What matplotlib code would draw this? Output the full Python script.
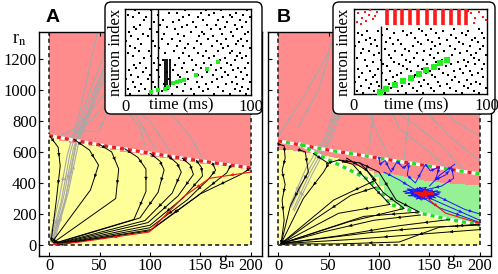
import matplotlib
matplotlib.use('Agg')
import matplotlib.pyplot as plt
from matplotlib.patches import FancyBboxPatch
from matplotlib.transforms import IdentityTransform

plt.rcParams['font.family'] = ['Liberation Serif', 'DejaVu Serif']
plt.rcParams['mathtext.fontset'] = 'stix'
plt.rcParams['font.size'] = 12

PINK = '#ff8c8c'
YELLOW = '#ffff99'
GREEN = '#96f096'
GRAY = '#a8a8a8'

W, H = 498, 274

# ---------------------------------------------------------------- region data
# upper separatrix (red dashed) in panel A and B
A_sep_g = [0, 50, 100, 150, 200]
A_sep_r = [705, 645, 592, 542, 497]
B_sep_g = [0, 50, 100, 150, 200]
B_sep_r = [671, 612, 560, 508, 458]
# lower green/white dashed line in panel B
B_low_g = [22, 40, 69, 90, 100, 111, 141, 170, 200]
B_low_r = [650, 580, 490, 420, 360, 262, 205, 165, 129]

# top edge of yellow region (stairs)
A_yel_g = [0, 10, 20, 30, 40, 50, 60, 70, 80, 90, 100, 110, 120, 130, 140,
           150, 160, 170, 180, 190, 200]
A_yel_r = [690, 672, 660, 648, 636, 625, 610, 600, 590, 578, 568, 560, 550,
           542, 532, 522, 515, 508, 500, 492, 492]

B_yel_g = [0, 5, 10, 15, 20, 25, 30, 35, 40, 45, 50, 55, 60, 65, 70, 75, 80,
           85, 90, 95, 100, 105, 110, 115, 120, 125, 130, 135, 140, 145, 150,
           155, 160, 165, 170, 175, 180, 185, 190, 195, 200]
B_yel_r = [613, 613, 610, 605, 600, 595, 590, 585, 580, 575, 570, 560, 545,
           530, 520, 510, 500, 490, 475, 440, 380, 320, 277, 262, 250, 240,
           230, 222, 213, 205, 198, 190, 182, 175, 168, 160, 152, 145, 140,
           135, 135]
B_grn_g = [95, 100, 105, 110, 115, 120, 125, 130, 135, 140, 145, 150, 155,
           160, 165, 170, 175, 180, 185, 190, 195, 200]
B_grn_lo = [440, 380, 320, 277, 262, 250, 240, 230, 222, 213, 205, 198, 190,
            182, 175, 168, 160, 152, 145, 140, 135, 135]
B_grn_hi = [464, 462, 460, 455, 450, 445, 440, 432, 425, 420, 415, 410, 405,
            400, 398, 396, 394, 392, 390, 389, 388, 388]

# ---------------------------------------------------------------- trajectories
A_black = [
    [(1, 700), (9, 630), (11, 510), (7, 280), (2, 25)],
    [(25, 680), (40, 612), (49, 515), (41, 355), (3, 20)],
    [(50, 648), (62, 600), (69, 490), (66, 300), (4, 15)],
    [(75, 620), (88, 565), (96, 490), (96, 345), (84, 165), (5, 12)],
    [(100, 592), (110, 540), (114, 484), (108, 340), (90, 175), (6, 10)],
    [(118, 575), (127, 525), (131, 470), (122, 335), (95, 158), (7, 9)],
    [(132, 560), (140, 515), (143, 455), (128, 318), (98, 145), (8, 8)],
    [(146, 545), (151, 500), (152, 445), (133, 305), (100, 128), (9, 7)],
    [(162, 528), (165, 482), (158, 425), (137, 292), (100, 112), (10, 6)],
    [(180, 512), (176, 465), (146, 312), (101, 100), (10, 5)],
    [(200, 497), (190, 455), (150, 330), (100, 92), (10, 4)],
]
A_red = [(200, 470), (159, 430), (133, 310), (99, 84), (29, 19), (4, 4)]
A_gray = [
    [(3, 30), (14, 300), (24, 620), (38, 900), (55, 1150), (72, 1372)],
    [(4, 25), (17, 320), (27, 650), (45, 950), (66, 1250), (78, 1372)],
    [(2, 40), (12, 280), (21, 600), (34, 880), (50, 1150), (62, 1372)],
    [(5, 20), (19, 340), (30, 680), (50, 1000), (84, 1372)],
    [(3, 35), (15, 260), (26, 640), (42, 920), (58, 1200), (68, 1372)],
    [(1, 50), (10, 300), (18, 580), (30, 850), (48, 1372)],
    [(92, 1372), (70, 1100), (40, 850), (24, 740), (8, 700)],
    [(100, 1372), (78, 1120), (55, 900), (35, 760), (20, 690)],
    [(24, 740), (49, 730), (58, 860), (62, 1000)],
    [(74, 890), (90, 760), (95, 640)],
    [(60, 1000), (85, 850), (105, 620)],
    [(65, 950), (100, 800), (120, 600)],
    [(120, 850), (140, 700), (152, 560)],
]

B_black = [
    [(0, 650), (6, 640), (7, 560), (4, 480), (7, 390), (4, 290), (6, 160), (3, 10)],
    [(20, 615), (27, 600), (30, 470), (22, 380), (12, 250), (3, 10)],
    [(35, 590), (50, 525), (45, 470), (25, 300), (3, 10)],
    [(48, 525), (60, 548), (81, 529), (97, 419), (55, 290), (3, 10)],
    [(60, 548), (74, 520), (92, 390), (111, 262), (60, 205), (3, 10)],
    [(81, 529), (100, 470), (117, 290), (140, 213), (85, 185), (3, 10)],
    [(68, 560), (88, 480), (104, 340), (125, 236), (70, 150), (3, 10)],
    [(97, 374), (72, 320), (35, 160), (3, 10)],
    [(141, 194), (95, 160), (45, 85), (3, 10)],
    [(170, 165), (120, 125), (60, 60), (3, 10)],
    [(200, 129), (150, 115), (90, 80), (3, 10)],
    [(200, 135), (160, 116), (120, 20), (60, 8), (3, 8)],
    [(200, 100), (140, 70), (70, 35), (3, 10)],
]
B_blue = [
    [(100, 568), (101, 520), (106, 545), (112, 470), (118, 540), (124, 495),
     (130, 530), (128, 450), (136, 400), (146, 520), (151, 478), (160, 505),
     (156, 420), (166, 452), (172, 500), (174, 430), (162, 380), (150, 362),
     (136, 342), (146, 300), (131, 352), (151, 330), (140, 372), (156, 320),
     (135, 310), (146, 362), (126, 332), (151, 346), (140, 300), (161, 342),
     (138, 352), (148, 310), (132, 326), (153, 356), (142, 290), (128, 362),
     (155, 336), (141, 330)],
    [(134, 345), (150, 312), (129, 318), (158, 350), (137, 296), (147, 372),
     (124, 345), (156, 305), (139, 360), (152, 325), (131, 338), (145, 295),
     (160, 330), (136, 320), (149, 355), (142, 340)],
    [(141, 330), (165, 260), (200, 160)],
    [(130, 360), (160, 240), (200, 145)],
    [(150, 340), (185, 230), (200, 200)],
    [(105, 470), (120, 420), (135, 360)],
    [(175, 520), (160, 450), (150, 380)],
]
B_red = [(146, 325), (150, 290), (166, 206), (199, 142)]
B_red_knot = [(136, 336), (154, 330), (145, 348), (144, 312), (139, 326),
              (152, 340), (146, 322)]
B_gray = [
    [(13, 245), (30, 480), (49, 697), (62, 950), (75, 1200), (85, 1372)],
    [(15, 230), (32, 470), (51, 690), (66, 980), (80, 1372)],
    [(12, 260), (28, 500), (47, 700), (58, 930), (70, 1150), (78, 1372)],
    [(16, 220), (34, 460), (53, 690), (70, 1000), (92, 1372)],
    [(0, 700), (25, 950), (50, 1240), (56, 1372)],
    [(20, 760), (40, 1000), (51, 1238)],
    [(110, 1372), (100, 1100), (95, 900), (90, 600)],
    [(120, 1372), (112, 1050), (130, 850), (125, 560)],
    [(100, 1000), (140, 900), (170, 700), (200, 540)],
    [(95, 950), (130, 800), (160, 650), (185, 480)],
    [(105, 1100), (150, 950), (175, 800), (200, 700)],
    [(110, 900), (120, 750), (150, 600), (170, 480)],
    [(90, 850), (100, 700), (110, 570)],
    [(140, 1372), (150, 1150), (180, 950), (200, 800)],
]

# ---------------------------------------------------------------- raster data
A_bg = [
    [4, 19, 37, 55, 71, 83, 96], [11, 29, 46, 62, 78, 91],
    [2, 16, 34, 52, 66, 87, 98], [8, 24, 41, 59, 74, 93],
    [13, 31, 48, 64, 80, 89], [6, 22, 39, 57, 69, 85, 99],
    [1, 18, 35, 50, 73, 94], [10, 27, 44, 61, 77, 88],
    [5, 20, 42, 58, 70, 82, 97], [14, 33, 49, 65, 79, 92],
    [3, 25, 38, 54, 72, 86], [9, 17, 45, 60, 76, 90, 95],
    [7, 28, 40, 56, 68, 84], [12, 23, 47, 63, 81, 98],
    [0, 30, 36, 53, 75, 87], [15, 26, 43, 67, 79, 93],
    [6, 21, 51, 62, 71, 89, 96], [2, 32, 46, 58, 83, 91],
    [11, 19, 39, 64, 74, 85], [8, 27, 48, 55, 78, 99],
    [4, 24, 41, 69, 82, 94], [13, 34, 50, 60, 76, 88],
    [1, 22, 44, 57, 73, 90, 97], [10, 29, 37, 66, 80, 92],
    [5, 18, 47, 59, 70, 86], [14, 31, 42, 63, 77, 95],
    [3, 25, 52, 61, 84, 98], [9, 20, 40, 68, 75, 89],
    [7, 33, 45, 56, 79, 93], [12, 28, 49, 65, 72, 87],
    [0, 23, 38, 54, 81, 96], [15, 30, 43, 62, 74, 91],
    [6, 17, 46, 58, 78, 85, 99], [2, 26, 51, 67, 83, 94],
    [11, 35, 41, 60, 71, 88], [8, 21, 48, 64, 76, 97],
]
A_lines_t = [21, 26.5]
A_burst_t = [31.5, 33.5, 35.5]
A_burst_n = (0.09, 0.42)
A_green_t = [21, 26, 32, 34, 38, 41, 44, 47, 56, 65, 74]
A_green_n = [0.03, 0.06, 0.07, 0.09, 0.14, 0.15, 0.16, 0.18, 0.23, 0.30, 0.38]

B_bg = [
    [7, 23, 39, 52, 68, 81, 94], [2, 15, 33, 47, 60, 77, 90],
    [11, 28, 44, 58, 72, 86, 99], [5, 19, 36, 50, 65, 83],
    [13, 26, 41, 56, 70, 88, 95], [1, 17, 31, 49, 63, 79, 92],
    [9, 24, 38, 53, 74, 85], [4, 14, 29, 45, 61, 76, 97],
    [16, 32, 46, 59, 71, 89], [6, 21, 35, 54, 67, 82, 93],
    [12, 27, 43, 57, 75, 87], [3, 18, 40, 51, 64, 80, 96],
    [10, 25, 37, 48, 69, 84], [0, 22, 34, 55, 73, 91, 98],
    [14, 30, 42, 62, 78, 86], [8, 20, 39, 52, 66, 83, 94],
    [2, 28, 45, 60, 71, 90], [15, 26, 36, 57, 74, 88, 99],
    [5, 19, 47, 63, 80, 92], [11, 31, 41, 53, 68, 85],
    [7, 23, 38, 58, 76, 95], [1, 17, 44, 61, 72, 87, 97],
    [13, 29, 35, 50, 65, 82], [4, 24, 48, 59, 79, 93],
    [9, 16, 33, 56, 70, 89], [12, 27, 46, 64, 77, 91, 98],
    [6, 21, 40, 54, 73, 84], [3, 30, 43, 62, 81, 96],
    [10, 18, 37, 51, 67, 86], [0, 25, 49, 58, 75, 94],
]
B_line_t = 20
B_red_stripes = [25, 30.6, 36, 42.3, 48, 55, 61, 67, 73, 78.7, 84.5]
B_red_dots_t = [3, 6, 8, 11, 14, 17, 2, 9, 12, 16, 88, 91, 94, 97, 90, 86, 5, 99]
B_red_dots_n = [0.95, 0.90, 0.97, 0.93, 0.88, 0.96, 0.85, 0.86, 0.99, 0.92,
                0.95, 0.89, 0.97, 0.91, 0.84, 0.98, 0.82, 0.87]
B_green_t = [19.3, 24, 30.6, 37, 43, 48.5, 54, 60, 65, 70]
B_green_n = [0.02, 0.06, 0.11, 0.15, 0.19, 0.24, 0.28, 0.32, 0.36, 0.40]


# ---------------------------------------------------------------- helpers
def px_box(x0, y0, x1, y1):
    return [x0 / W, 1 - y1 / H, (x1 - x0) / W, (y1 - y0) / H]


def draw_traj(ax, pts, color, lw=0.7, z=3, head=5, end_head=True):
    g = [p[0] for p in pts]
    r = [p[1] for p in pts]
    ax.plot(g, r, color=color, lw=lw, zorder=z)
    segs = list(zip(pts[:-1], pts[1:]))
    for i, ((g0, r0), (g1, r1)) in enumerate(segs):
        f = 1.0 if (end_head and i == len(segs) - 1) else 0.5
        gm, rm = g0 + f * (g1 - g0), r0 + f * (r1 - r0)
        ax.annotate('', xy=(gm, rm), xytext=(gm - 0.03 * (g1 - g0), rm - 0.03 * (r1 - r0)),
                    arrowprops=dict(arrowstyle='-|>', color=color, lw=0.3,
                                    shrinkA=0, shrinkB=0, mutation_scale=head),
                    zorder=z)


def setup(ax, left_labels, right_ticks):
    ax.set_xlim(-10, 211)
    ax.set_ylim(-70, 1372)
    ax.set_xticks([0, 50, 100, 150, 200])
    ax.set_yticks(range(0, 1201, 200))
    ax.tick_params(direction='in', length=3, width=0.8, top=True,
                   right=right_ticks, labelsize=12, pad=1.5)
    if not left_labels:
        ax.set_yticklabels([])
    for s in ax.spines.values():
        s.set_linewidth(1.0)


def base_regions(ax):
    ax.fill_between([0, 200], [0, 0], [1372, 1372], color=PINK, lw=0, zorder=0)
    kw = dict(color='#333333', lw=1.3, dashes=(2.3, 1.7), zorder=2.5)
    ax.plot([0, 0], [0, 1372], **kw)
    ax.plot([200, 200], [0, 1372], **kw)
    ax.plot([0, 200], [0, 0], **kw)


def raster(ax, rows, nmax):
    ts, ns = [], []
    for i, row in enumerate(rows):
        for t in row:
            ts.append(t)
            ns.append((i + 0.5) / len(rows) * nmax)
    ax.scatter(ts, ns, s=1.1, marker='s', color='black', linewidths=0, zorder=2)


fig = plt.figure(figsize=(W / 100, H / 100), dpi=100)
axA = fig.add_axes(px_box(39, 32, 262, 256))
axB = fig.add_axes(px_box(268, 32, 491, 256))

# ---------------------------------------------------------------- panel A
setup(axA, True, False)
base_regions(axA)
axA.fill_between(A_yel_g, 0, A_yel_r, step='post', color=YELLOW, lw=0, zorder=1)
for tr in A_gray:
    draw_traj(axA, tr, GRAY, lw=0.8, z=2, end_head=False)
axA.plot(A_sep_g, A_sep_r, color='white', lw=2.4, zorder=2.8)
axA.plot(A_sep_g, A_sep_r, color='#e82020', lw=2.4, dashes=(1.2, 1.2), zorder=2.81)
for tr in A_black:
    draw_traj(axA, tr, 'black')
draw_traj(axA, A_red, '#ee1111', lw=0.8, z=3.2)

# ---------------------------------------------------------------- panel B
setup(axB, False, True)
base_regions(axB)
axB.fill_between(B_yel_g, 0, B_yel_r, step='post', color=YELLOW, lw=0, zorder=1)
axB.fill_between(B_grn_g, B_grn_lo, B_grn_hi, step='post', color=GREEN, lw=0, zorder=1)
for tr in B_gray:
    draw_traj(axB, tr, GRAY, lw=0.8, z=2, end_head=False)
axB.plot(B_sep_g, B_sep_r, color='white', lw=2.4, zorder=2.8)
axB.plot(B_sep_g, B_sep_r, color='#e82020', lw=2.4, linestyle=(0, (1.2, 3.6)),
         zorder=2.81)
axB.plot(B_sep_g, B_sep_r, color='#22dd22', lw=2.4, linestyle=(2.4, (1.2, 3.6)),
         zorder=2.82)
axB.plot(B_low_g, B_low_r, color='white', lw=2.4, zorder=2.8)
axB.plot(B_low_g, B_low_r, color='#22dd22', lw=2.4, dashes=(1.2, 1.2), zorder=2.81)
for tr in B_black:
    draw_traj(axB, tr, 'black')
for tr in B_blue:
    draw_traj(axB, tr, '#1a1aff', lw=0.7, z=3.3, end_head=False)
draw_traj(axB, B_red, '#ee1111', lw=0.8, z=3.4)
axB.plot([p[0] for p in B_red_knot], [p[1] for p in B_red_knot],
         color='#ee1111', lw=1.6, zorder=3.5)

# panel letters and axis names
fig.text(53 / W, 1 - 18 / H, 'A', family='Liberation Sans', weight='bold',
         fontsize=14, ha='center', va='center')
fig.text(284 / W, 1 - 18 / H, 'B', family='Liberation Sans', weight='bold',
         fontsize=14, ha='center', va='center')
fig.text(19 / W, 1 - 40 / H, r'r$_{\rm n}$', fontsize=13, ha='center', va='center')
fig.text(227 / W, 1 - 262 / H, r'g$_{\rm n}$', fontsize=13, ha='center', va='center')
fig.text(455 / W, 1 - 262 / H, r'g$_{\rm n}$', fontsize=13, ha='center', va='center')

# ---------------------------------------------------------------- insets
for (bx0, bx1) in [(105, 262), (333, 495)]:
    box = FancyBboxPatch((bx0, H - 114), bx1 - bx0, 112,
                         boxstyle='round,pad=0,rounding_size=6',
                         transform=IdentityTransform(), facecolor='white',
                         edgecolor='black', lw=1.0, zorder=5)
    fig.add_artist(box)

insA = fig.add_axes(px_box(125, 9, 251, 95))
insB = fig.add_axes(px_box(354, 9, 487, 94))
for ins, (lx, cx) in [(insA, (116, 181)), (insB, (344, 416))]:
    ins.set_zorder(6)
    ins.set_xlim(0, 100)
    ins.set_ylim(0, 1)
    ins.set_xticks([0, 100])
    ins.set_yticks([])
    ins.tick_params(length=0, labelsize=12, pad=3)
    for s in ins.spines.values():
        s.set_linewidth(1.0)
    fig.text(lx / W, 1 - 52 / H, 'neuron index', rotation=90, fontsize=12,
             ha='center', va='center', zorder=7)
    fig.text(cx / W, 1 - 105 / H, 'time (ms)', fontsize=12, ha='center',
             va='center', zorder=7)

raster(insA, A_bg, 1.0)
for t in A_lines_t:
    insA.axvline(t, color='black', lw=1.0, zorder=3)
insA.vlines(A_burst_t, A_burst_n[0], A_burst_n[1], color='black', lw=1.3, zorder=3)
insA.scatter(A_green_t, A_green_n, s=6, marker='s', color='#22ee22',
             linewidths=0, zorder=4)

raster(insB, B_bg, 0.78)
insB.vlines([B_line_t], 0, 0.8, color='black', lw=1.0, zorder=3)
insB.vlines(B_red_stripes, 0.81, 1.0, color='#ff1a1a', lw=2.6, zorder=3)
insB.scatter(B_red_dots_t, B_red_dots_n, s=2.5, marker='s', color='#ff1a1a',
             linewidths=0, zorder=3)
insB.scatter(B_green_t, B_green_n, s=16, marker='s', color='#22ee22',
             linewidths=0, zorder=4)

fig.savefig('out.png', dpi=100, facecolor='white')
